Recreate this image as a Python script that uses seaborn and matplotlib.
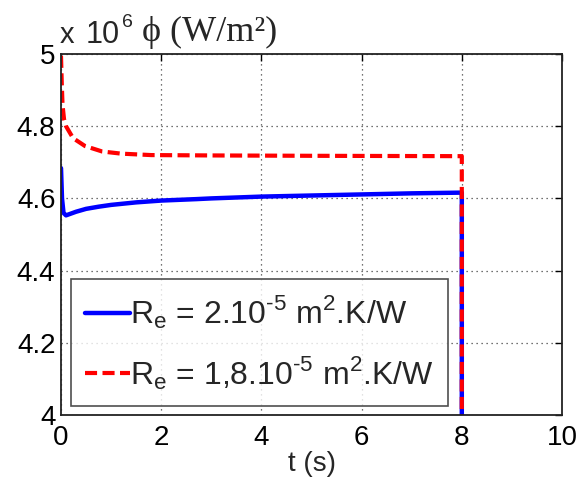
import numpy as np
import pandas as pd
import matplotlib
matplotlib.use("Agg")
import matplotlib.pyplot as plt
import seaborn as sns

# ---- data ----
t_blue = [0.0, 0.02, 0.05, 0.1, 0.2, 0.3, 0.5, 0.75, 1.0, 1.5, 2.0, 2.7, 3.0, 4.0, 5.0, 6.0, 7.0, 8.0, 8.0]
phi_blue = [4.684, 4.60, 4.56, 4.553, 4.558, 4.563, 4.571, 4.577, 4.582, 4.589, 4.594, 4.598, 4.600,
            4.605, 4.608, 4.611, 4.614, 4.616, 3.9]

t_red = [0.0, 0.015, 0.03, 0.06, 0.1, 0.24, 0.48, 0.82, 1.2, 1.8, 3.0, 5.0, 8.0, 8.0]
phi_red = [4.995, 4.92, 4.86, 4.82, 4.80, 4.767, 4.745, 4.73, 4.724, 4.72, 4.719, 4.718, 4.717, 3.9]

label_blue = r"R$_{\mathregular{e}}$ = 2.10$^{\text{-5}}$ m$^{\mathregular{2}}$.K/W"
label_red = r"R$_{\mathregular{e}}$ = 1,8.10$^{\text{-5}}$ m$^{\mathregular{2}}$.K/W"

x_ticks = [0, 2, 4, 6, 8, 10]
y_ticks = [4.0, 4.2, 4.4, 4.6, 4.8, 5.0]
y_ticklabels = ["4", "4.2", "4.4", "4.6", "4.8", "5"]

df_blue = pd.DataFrame({"t": t_blue, "phi": phi_blue})
df_red = pd.DataFrame({"t": t_red, "phi": phi_red})

sns.set_style("white")
plt.rcParams["font.family"] = ["Liberation Sans", "DejaVu Sans"]
plt.rcParams["mathtext.fontset"] = "custom"
plt.rcParams["mathtext.rm"] = "Liberation Sans"

W, H = 579, 486
fig = plt.figure(figsize=(W / 100, H / 100), dpi=100)
ax = fig.add_axes([61 / W, 1 - 415 / H, 501 / W, 361 / H])

sns.lineplot(data=df_blue, x="t", y="phi", ax=ax, color="#0000ff", lw=3.2,
             sort=False, estimator=None, label=label_blue)
sns.lineplot(data=df_red, x="t", y="phi", ax=ax, color="#ff0000", lw=3.0,
             sort=False, estimator=None, label=label_red, dashes=False)
ax.lines[1].set_dashes([2.9, 1.3])

ax.set_xlim(0, 10)
ax.set_ylim(4, 5)
ax.set_xticks(x_ticks)
ax.set_xticklabels([str(v) for v in x_ticks])
ax.set_yticks(y_ticks)
ax.set_yticklabels(y_ticklabels)
ax.set_xlabel("t (s)", fontsize=20, labelpad=0)
ax.set_ylabel("")

ax.grid(True, linestyle=(0, (1, 3)), color="#444444", lw=0.9)
ax.tick_params(direction="in", length=5, width=1, top=True, right=True,
               labelsize=20, colors="black")
ax.tick_params(axis="x", pad=7)
ax.tick_params(axis="y", pad=4)
for s in ax.spines.values():
    s.set_color("#222222")
    s.set_linewidth(1.3)
    s.set_visible(True)

leg = ax.legend(loc="lower left", bbox_to_anchor=(0.02, 0.025), borderaxespad=0,
                fontsize=23, frameon=True, fancybox=False, handlelength=1.4,
                handletextpad=0.0, borderpad=0.45, labelspacing=0.72)
leg.get_frame().set_edgecolor("#222222")
leg.get_frame().set_linewidth(1.2)
leg.get_lines()[1].set_dashes([2.9, 1.3])

# top label (MATLAB exponent + quantity)
fig.text(60 / W, 1 - 43 / H, "x", fontsize=21, va="baseline", ha="left")
fig.text(86 / W, 1 - 43 / H, "10", fontsize=22, va="baseline", ha="left")
fig.text(122 / W, 1 - 27 / H, "6", fontsize=14, va="baseline", ha="left")
fig.text(142 / W, 1 - 41 / H, "\u03d5 (W/m\u00b2)", fontsize=26, va="baseline", ha="left",
         family=["Liberation Serif", "DejaVu Serif"])

fig.savefig("out.png", dpi=100)
